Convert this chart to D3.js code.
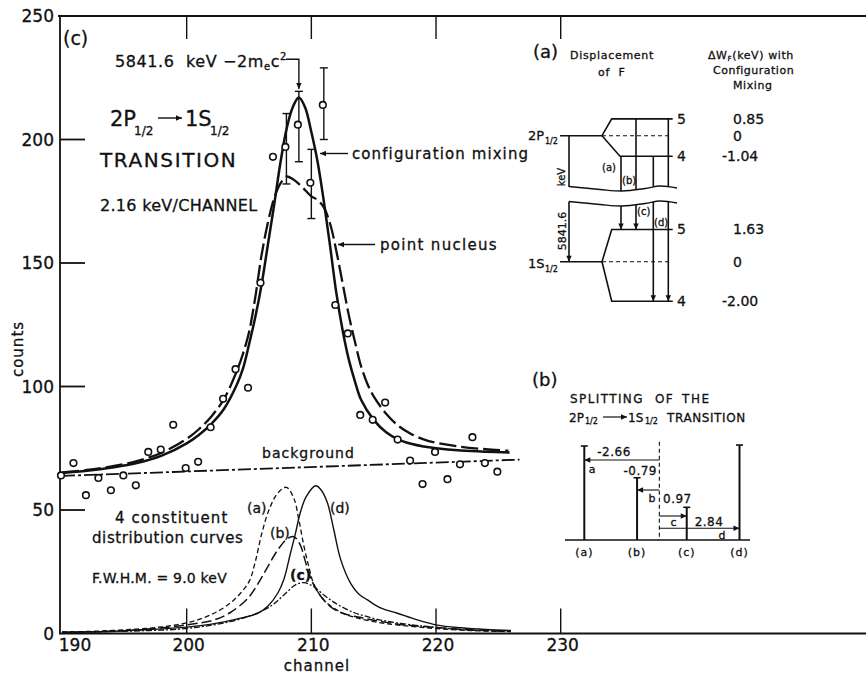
<!DOCTYPE html>
<html>
<head>
<meta charset="utf-8">
<script src="https://cdn.jsdelivr.net/npm/d3@7"></script>
<style>
  body { margin: 0; background: #fff; }
  text { font-family: "DejaVu Sans", sans-serif; fill: #111; stroke: #111; stroke-width: 0.3; white-space: pre; }
</style>
</head>
<body>
<svg id="chart" width="866" height="675"></svg>
<script>
// measured spectrum, one point per channel
const channels = [190, 191, 192, 193, 194, 195, 196, 197, 198, 199, 200, 201,
  202, 203, 204, 205, 206, 207, 208, 209, 210, 211, 212, 213, 214, 215, 216, 217,
  218, 219, 220, 221, 222, 223, 224, 225];
const counts = [64, 69, 56, 63, 58, 64, 60, 73.5, 74.5, 84.5, 67, 69.5,
  83.5, 95, 107, 99.5, 142, 193, 197, 206, 182.5, 214, 133, 121.5, 88.5, 86.5, 93.5, 78.5,
  70, 60.5, 73.5, 62.5, 68.5, 79.5, 69, 65.5];

// error bars near the peak
const errChannels = [208, 209, 210, 211];
const errLow = [182, 191, 168, 200];
const errHigh = [210.5, 219.5, 196, 229];

// background line (channel, counts)
const background = [[190, 63.8], [226.7, 70.4]];

// fitted curves (channel, counts)
const mixingFit = [[190, 65], [192, 65.9], [194, 67.2], [196, 69], [198, 72], [200, 77],
  [201, 80.5], [202, 85], [203, 91], [204, 100.5], [204.5, 107], [205, 117], [205.5, 128],
  [206, 141], [206.5, 157], [207, 173], [207.5, 190], [208, 204], [208.5, 213], [209, 217],
  [209.5, 213], [210, 203], [210.5, 191], [211, 175], [211.5, 157], [212, 138], [212.5, 123],
  [213, 111], [213.5, 102], [214, 94.5], [215, 86.5], [216, 81.5], [217, 78.5], [218, 76.8],
  [219, 75.7], [220, 75], [222, 74.1], [224, 73.6], [225.9, 73.3]];
const pointFit = [[190, 65.2], [192, 66.2], [194, 67.7], [196, 69.8], [198, 73.2], [200, 78.8],
  [201, 82.8], [202, 88], [203, 95], [204, 106], [204.5, 113], [205, 122], [205.5, 136],
  [206, 153], [206.5, 166], [207, 176], [207.5, 182], [208, 185], [208.5, 184], [209, 182],
  [209.5, 179.5], [210, 177], [210.5, 175.5], [211, 172.5], [211.5, 166], [212, 155],
  [212.5, 142], [213, 129], [213.5, 118], [214, 108], [214.5, 101], [215, 96], [216, 89],
  [217, 84], [218, 80.8], [219, 78.6], [220, 77.2], [222, 75.6], [224, 74.6], [225.8, 74]];

// the four constituent distribution curves
const curveA = [[190, 0.6], [193, 1], [196, 1.8], [198, 2.7], [199.5, 3.8], [201, 5.7],
  [202.2, 8.2], [203, 10.5], [204, 14.6], [205, 21], [205.5, 29], [206, 40], [206.6, 50],
  [207.3, 56.8], [208, 59.2], [208.6, 54.7], [209, 46], [209.4, 35.5], [209.8, 27],
  [210.2, 20], [211, 13.6], [212.3, 8.8], [213.5, 6.5], [214.5, 5.3], [216, 4], [218.2, 2.8],
  [220, 2], [222, 1.4], [224, 1], [226, 0.8]];
const curveB = [[190, 0.4], [194, 0.9], [197, 1.8], [200, 3.5], [202.2, 5.5], [203.5, 8.5],
  [204.9, 14.2], [205.7, 20], [206.5, 27], [207.3, 33.8], [208.1, 38.5], [208.6, 39.2],
  [209.1, 36], [209.5, 29.5], [209.9, 23], [210.5, 16.9], [211.5, 11], [212.5, 8.2],
  [214.2, 6.2], [216, 4.5], [218, 3.2], [220.9, 2.1], [223, 1.4], [226, 1]];
const curveC = [[190, 0.4], [194, 0.8], [197, 1.2], [199.5, 1.8], [201.5, 3], [203.5, 4.8],
  [205, 7], [206.2, 9.5], [207, 12], [207.8, 15.6], [208.7, 19.6], [209.4, 20.6],
  [210.2, 18.9], [211, 15.6], [211.7, 13], [212.4, 10.9], [213.5, 8.3], [214.5, 6.8],
  [216, 5], [218.2, 3.4], [220, 2.5], [221.7, 1.6], [224, 1.1], [226, 0.9]];
const curveD = [[190, 0.5], [194, 0.9], [197, 1.6], [200, 2.6], [202, 3.8], [204, 5.8],
  [205.7, 8.2], [206.5, 11], [207.3, 16.3], [207.8, 22], [208.3, 32], [208.7, 40],
  [209.1, 48.7], [209.6, 55.5], [210.35, 59.8], [210.8, 58], [211.3, 52.7], [211.8, 42],
  [212.35, 30], [213.15, 20.3], [213.8, 16], [214.5, 13.6], [215.5, 10.5], [216.9, 8.2],
  [218.5, 5.5], [220.1, 3.4], [222, 2.3], [224, 1.6], [226, 1.2]];

const xTicks = [190, 200, 210, 220, 230];
const yTicks = [0, 50, 100, 150, 200, 250];

// inset (a): hyperfine shifts in keV for F = 5 and F = 4
const levelF = ['5', '4'];
const shift2P = [0.85, -1.04];
const shift1S = [1.63, -2.00];
// inset (b): components a-d
const compNames = ['a', 'b', 'c', 'd'];
const splitKeV = [-2.66, -0.79, 0.97, 2.84];
const peakHeights = [59.2, 39.2, 20.6, 59.8];
const upperF = [1, 0, 1, 0];   // index into levelF for the 2P1/2 level
const lowerF = [0, 0, 1, 1];   // index into levelF for the 1S1/2 level

const svg = d3.select('#chart');
const ink = '#111';

const defs = svg.append('defs');
defs.append('marker').attr('id', 'arrow')
    .attr('viewBox', '0 0 10 10').attr('refX', 10).attr('refY', 5)
    .attr('markerWidth', 8).attr('markerHeight', 6)
    .attr('markerUnits', 'userSpaceOnUse').attr('orient', 'auto')
  .append('path').attr('d', 'M0,0.5 L10,5 L0,9.5 z').attr('fill', ink);

const x = d3.scaleLinear().domain([190, 230]).range([62, 560.7]);
const y = d3.scaleLinear().domain([0, 250]).range([633.5, 16]);

// frame and ticks
const frame = svg.append('g').attr('stroke', ink).attr('stroke-width', 1.8);
frame.append('line').attr('x1', 60).attr('x2', 60).attr('y1', y(250)).attr('y2', y(0));
frame.append('line').attr('x1', 58).attr('x2', 866).attr('y1', y(250)).attr('y2', y(250));
frame.append('line').attr('x1', 59).attr('x2', 866).attr('y1', y(0)).attr('y2', y(0));

frame.selectAll('.yt').data(yTicks.filter(d => d > 0 && d < 250)).join('line')
    .attr('x1', 60).attr('x2', 85).attr('y1', d => y(d)).attr('y2', d => y(d));
frame.selectAll('.xb').data(xTicks.slice(1)).join('line')
    .attr('x1', d => x(d)).attr('x2', d => x(d)).attr('y1', y(0)).attr('y2', y(0) - 25)
    .attr('stroke-width', 1.4);
frame.selectAll('.xt').data(xTicks.slice(1)).join('line')
    .attr('x1', d => x(d)).attr('x2', d => x(d)).attr('y1', y(250)).attr('y2', y(250) + 23)
    .attr('stroke-width', 1.4);

svg.append('g').selectAll('text').data(yTicks).join('text')
    .attr('x', 54).attr('y', d => y(d)).attr('dy', '0.36em')
    .attr('text-anchor', 'end').attr('font-size', 17).text(d => d);
svg.append('g').selectAll('text').data(xTicks).join('text')
    .attr('x', d => x(d) + (d === 190 ? 13 : 2)).attr('y', 651)
    .attr('text-anchor', 'middle').attr('font-size', 17).text(d => d);

svg.append('text').attr('transform', 'translate(23,349) rotate(-90)')
    .attr('text-anchor', 'middle').attr('font-size', 15).attr('letter-spacing', 1).text('counts');
svg.append('text').attr('x', 317).attr('y', 671).attr('text-anchor', 'middle')
    .attr('font-size', 15).attr('letter-spacing', 1).text('channel');

// curves
const line = d3.line().x(d => x(d[0])).y(d => y(d[1])).curve(d3.curveCatmullRom.alpha(0.5));
const plot = svg.append('g').attr('fill', 'none').attr('stroke', ink);

plot.append('path').datum(background).attr('d', line)
    .attr('stroke-width', 1.8).attr('stroke-dasharray', '13,3,3,3');
plot.append('path').datum(curveA).attr('d', line)
    .attr('stroke-width', 1.3).attr('stroke-dasharray', '5,3');
plot.append('path').datum(curveB).attr('d', line)
    .attr('stroke-width', 1.5).attr('stroke-dasharray', '10,4');
plot.append('path').datum(curveC).attr('d', line)
    .attr('stroke-width', 1.3).attr('stroke-dasharray', '6,2,2,2');
plot.append('path').datum(curveD).attr('d', line).attr('stroke-width', 1.4);
plot.append('path').datum(pointFit).attr('d', line)
    .attr('stroke-width', 2.3).attr('stroke-dasharray', '17,5');
plot.append('path').datum(mixingFit).attr('d', line).attr('stroke-width', 2.5);

// error bars
const eb = svg.append('g').attr('stroke', ink).attr('stroke-width', 1.4);
errChannels.forEach((c, i) => {
  eb.append('line').attr('x1', x(c)).attr('x2', x(c)).attr('y1', y(errLow[i])).attr('y2', y(errHigh[i]));
  [errLow[i], errHigh[i]].forEach(v => {
    eb.append('line').attr('x1', x(c) - 4).attr('x2', x(c) + 4).attr('y1', y(v)).attr('y2', y(v));
  });
});

// data points
svg.append('g').selectAll('circle').data(channels).join('circle')
    .attr('cx', d => x(d) - 1).attr('cy', (d, i) => y(counts[i])).attr('r', 3.3)
    .attr('fill', '#fff').attr('stroke', ink).attr('stroke-width', 1.6);

// annotations on the main panel
function txt(g, px, py, s, size, extra) {
  const t = g.append('text').attr('x', px).attr('y', py).attr('font-size', size).text(s);
  if (extra) Object.entries(extra).forEach(([k, v]) => t.attr(k, v));
  return t;
}
const ann = svg.append('g');
txt(ann, 63, 45, '(c)', 19);

const peak = ann.append('text').attr('x', 115).attr('y', 66.5).attr('font-size', 16)
    .attr('letter-spacing', 0.6);
peak.append('tspan').text('5841.6  keV −2m');
peak.append('tspan').attr('font-size', 10).attr('dy', 3).text('e');
peak.append('tspan').attr('dy', -3).text('c');
peak.append('tspan').attr('font-size', 10).attr('dy', -7).text('2');
ann.append('path').attr('d', 'M286,59.3 H' + x(209) + ' V89')
    .attr('fill', 'none').attr('stroke', ink).attr('stroke-width', 1.4).attr('marker-end', 'url(#arrow)');

txt(ann, 110, 126, '2P', 21);
txt(ann, 134, 135, '1/2', 12);
ann.append('line').attr('x1', 158).attr('x2', 182).attr('y1', 118).attr('y2', 118)
    .attr('stroke', ink).attr('stroke-width', 1.4).attr('marker-end', 'url(#arrow)');
txt(ann, 185, 126, '1S', 21);
txt(ann, 210, 135, '1/2', 12);
txt(ann, 100, 167, 'TRANSITION', 20, { 'letter-spacing': 1.6 });
txt(ann, 100, 211, '2.16 keV/CHANNEL', 16, { 'letter-spacing': 0.3 });

ann.append('line').attr('x1', 348).attr('x2', 320).attr('y1', 153.5).attr('y2', 153.5)
    .attr('stroke', ink).attr('stroke-width', 1.4).attr('marker-end', 'url(#arrow)');
txt(ann, 352, 159, 'configuration mixing', 15, { 'letter-spacing': 1.1 });
ann.append('line').attr('x1', 375).attr('x2', 338).attr('y1', 244.5).attr('y2', 244.5)
    .attr('stroke', ink).attr('stroke-width', 1.4).attr('marker-end', 'url(#arrow)');
txt(ann, 380, 250, 'point nucleus', 15, { 'letter-spacing': 1.3 });

txt(ann, 262, 458, 'background', 14, { 'letter-spacing': 1 });
txt(ann, 115, 523, '4 constituent', 15, { 'letter-spacing': 1.1 });
txt(ann, 92, 543, 'distribution curves', 15, { 'letter-spacing': 0.6 });
txt(ann, 92, 583, 'F.W.H.M. = 9.0 keV', 14, { 'letter-spacing': 0.2 });
txt(ann, 247, 513, '(a)', 14);
txt(ann, 270, 538, '(b)', 14);
txt(ann, 290, 580, '(c)', 14, { 'font-weight': 'bold' });
txt(ann, 330, 513, '(d)', 14);

// ---- inset (a): level diagram ----
const ia = svg.append('g');
const dy = d3.scaleLinear().domain([0, 1]).range([0, -19.8]);
txt(ia, 533, 58, '(a)', 18);
txt(ia, 570, 58.5, 'Displacement', 11, { 'letter-spacing': 0.7 });
txt(ia, 598, 76, 'of  F', 11, { 'letter-spacing': 0.7 });
const dw = ia.append('text').attr('x', 708).attr('y', 58.5).attr('font-size', 11).attr('letter-spacing', 0.6);
dw.append('tspan').text('ΔW');
dw.append('tspan').attr('font-size', 7).attr('dy', 2).text('F');
dw.append('tspan').attr('dy', -2).text('(keV) with');
txt(ia, 713, 73.5, 'Configuration', 11, { 'letter-spacing': 0.5 });
txt(ia, 733, 88.5, 'Mixing', 11, { 'letter-spacing': 0.6 });

const levels = [
  { name: '2P', base: 135.7, shifts: shift2P, lowEnd: 620, ly: 140 },
  { name: '1S', base: 261.7, shifts: shift1S, lowEnd: 611.7, ly: 267.5 }
];
const lv = ia.append('g').attr('stroke', ink).attr('fill', 'none').attr('stroke-width', 1.6);
levels.forEach(L => {
  const y5 = L.base + dy(L.shifts[0]), y4 = L.base + dy(L.shifts[1]);
  lv.append('line').attr('x1', 560).attr('x2', 602).attr('y1', L.base).attr('y2', L.base);
  lv.append('path').attr('d', `M672.7,${y5} H611.7 L602,${L.base} L${L.lowEnd},${y4} H672.7`);
  lv.append('line').attr('x1', 602).attr('x2', 668).attr('y1', L.base).attr('y2', L.base)
      .attr('stroke-width', 1.1).attr('stroke-dasharray', '4,3');
  [y5, y4].forEach((yy, k) => {
    txt(ia, 677, yy, levelF[k], 14).attr('dy', '0.36em');
    const v = L.shifts[k];
    txt(ia, v < 0 ? 722 : 733, yy, v.toFixed(2), 14).attr('dy', '0.36em');
  });
  txt(ia, 733, L.base, '0', 14).attr('dy', '0.36em');
  txt(ia, 528, L.ly, L.name, 13);
  txt(ia, 545, L.ly + 4, '1/2', 8);
});

// broken energy axis
const wave = d3.line().curve(d3.curveCatmullRom);
const waveTop = [[569, 186.5], [600, 189.5], [622, 191], [645, 188.5], [660, 186], [677, 188]];
lv.append('path').attr('d', wave(waveTop)).attr('stroke-width', 1.3);
lv.append('path').attr('d', wave(waveTop.map(p => [p[0], p[1] + 15]))).attr('stroke-width', 1.3);
lv.append('line').attr('x1', 569).attr('x2', 569).attr('y1', levels[0].base).attr('y2', 187);
lv.append('line').attr('x1', 569).attr('x2', 569).attr('y1', 201.5).attr('y2', levels[1].base)
    .attr('marker-end', 'url(#arrow)');
ia.append('text').attr('transform', 'translate(565,177) rotate(-90)').attr('text-anchor', 'middle')
    .attr('font-size', 10).text('keV');
ia.append('text').attr('transform', 'translate(566,231) rotate(-90)').attr('text-anchor', 'middle')
    .attr('font-size', 11).text('5841.6');

// transitions a-d
const transX = [621, 636, 653.3, 668.3];
const waveAt = [191, 189.8, 186.6, 186.6];
const transLab = [[602, 171], [622, 184], [637, 215], [654, 226]];
compNames.forEach((n, i) => {
  const yu = levels[0].base + dy(shift2P[upperF[i]]);
  const yl = levels[1].base + dy(shift1S[lowerF[i]]);
  lv.append('line').attr('x1', transX[i]).attr('x2', transX[i]).attr('y1', yu).attr('y2', waveAt[i]);
  lv.append('line').attr('x1', transX[i]).attr('x2', transX[i]).attr('y1', waveAt[i] + 15).attr('y2', yl)
      .attr('marker-end', 'url(#arrow)');
  txt(ia, transLab[i][0], transLab[i][1], '(' + n + ')', 10);
});

// ---- inset (b): splitting ----
const ib = svg.append('g');
const sx = d3.scaleLinear().domain([-2.66, 2.84]).range([584.3, 739.5]);
const sy = d3.scaleLinear().domain([0, 59.2]).range([540, 446]);
txt(ib, 532, 386, '(b)', 18);
txt(ib, 570, 402.7, 'SPLITTING', 12, { 'letter-spacing': 1.4 });
txt(ib, 655, 402.7, 'OF', 12, { 'letter-spacing': 1.4 });
txt(ib, 682, 402.7, 'THE', 12, { 'letter-spacing': 1.6 });
txt(ib, 569, 421.7, '2P', 12);
txt(ib, 585, 424, '1/2', 8);
ib.append('line').attr('x1', 603).attr('x2', 627).attr('y1', 417).attr('y2', 417)
    .attr('stroke', ink).attr('stroke-width', 1.2).attr('marker-end', 'url(#arrow)');
txt(ib, 628, 421.7, '1S', 12);
txt(ib, 645, 424, '1/2', 8);
txt(ib, 667, 421.7, 'TRANSITION', 12, { 'letter-spacing': 0.6 });

const sb = ib.append('g').attr('stroke', ink).attr('fill', 'none').attr('stroke-width', 1.6);
sb.append('line').attr('x1', 565).attr('x2', 750).attr('y1', sy(0)).attr('y2', sy(0)).attr('stroke-width', 1.3);
sb.append('line').attr('x1', sx(0)).attr('x2', sx(0)).attr('y1', 441.7).attr('y2', sy(0))
    .attr('stroke-width', 1.1).attr('stroke-dasharray', '4,3');
const arrowY = [460, 490, 516, 528.3];
splitKeV.forEach((k, i) => {
  sb.append('line').attr('x1', sx(k)).attr('x2', sx(k)).attr('y1', sy(0)).attr('y2', sy(peakHeights[i]))
      .attr('stroke-width', 2);
  sb.append('line').attr('x1', sx(k) - 3.5).attr('x2', sx(k) + 3.5)
      .attr('y1', sy(peakHeights[i])).attr('y2', sy(peakHeights[i]));
  sb.append('line').attr('x1', sx(0)).attr('x2', sx(k)).attr('y1', arrowY[i]).attr('y2', arrowY[i])
      .attr('stroke-width', 1.1).attr('marker-end', 'url(#arrow)');
  txt(ib, sx(k), 556, '(' + compNames[i] + ')', 11, { 'text-anchor': 'middle', 'letter-spacing': 1 });
});
txt(ib, 614, 456, splitKeV[0].toFixed(2), 12, { 'text-anchor': 'middle', 'letter-spacing': 0.5 });
txt(ib, 592, 473, 'a', 11, { 'text-anchor': 'middle' });
txt(ib, 657, 475, splitKeV[1].toFixed(2), 12, { 'text-anchor': 'end', 'letter-spacing': 0.5 });
txt(ib, 652, 501.5, 'b', 11, { 'text-anchor': 'middle' });
txt(ib, 663, 503, splitKeV[2].toFixed(2), 12, { 'letter-spacing': 0.5 });
txt(ib, 673.5, 526, 'c', 11, { 'text-anchor': 'middle' });
txt(ib, 709, 525.5, splitKeV[3].toFixed(2), 12, { 'text-anchor': 'middle', 'letter-spacing': 0.5 });
txt(ib, 722, 539, 'd', 11, { 'text-anchor': 'middle' });
</script>
</body>
</html>
